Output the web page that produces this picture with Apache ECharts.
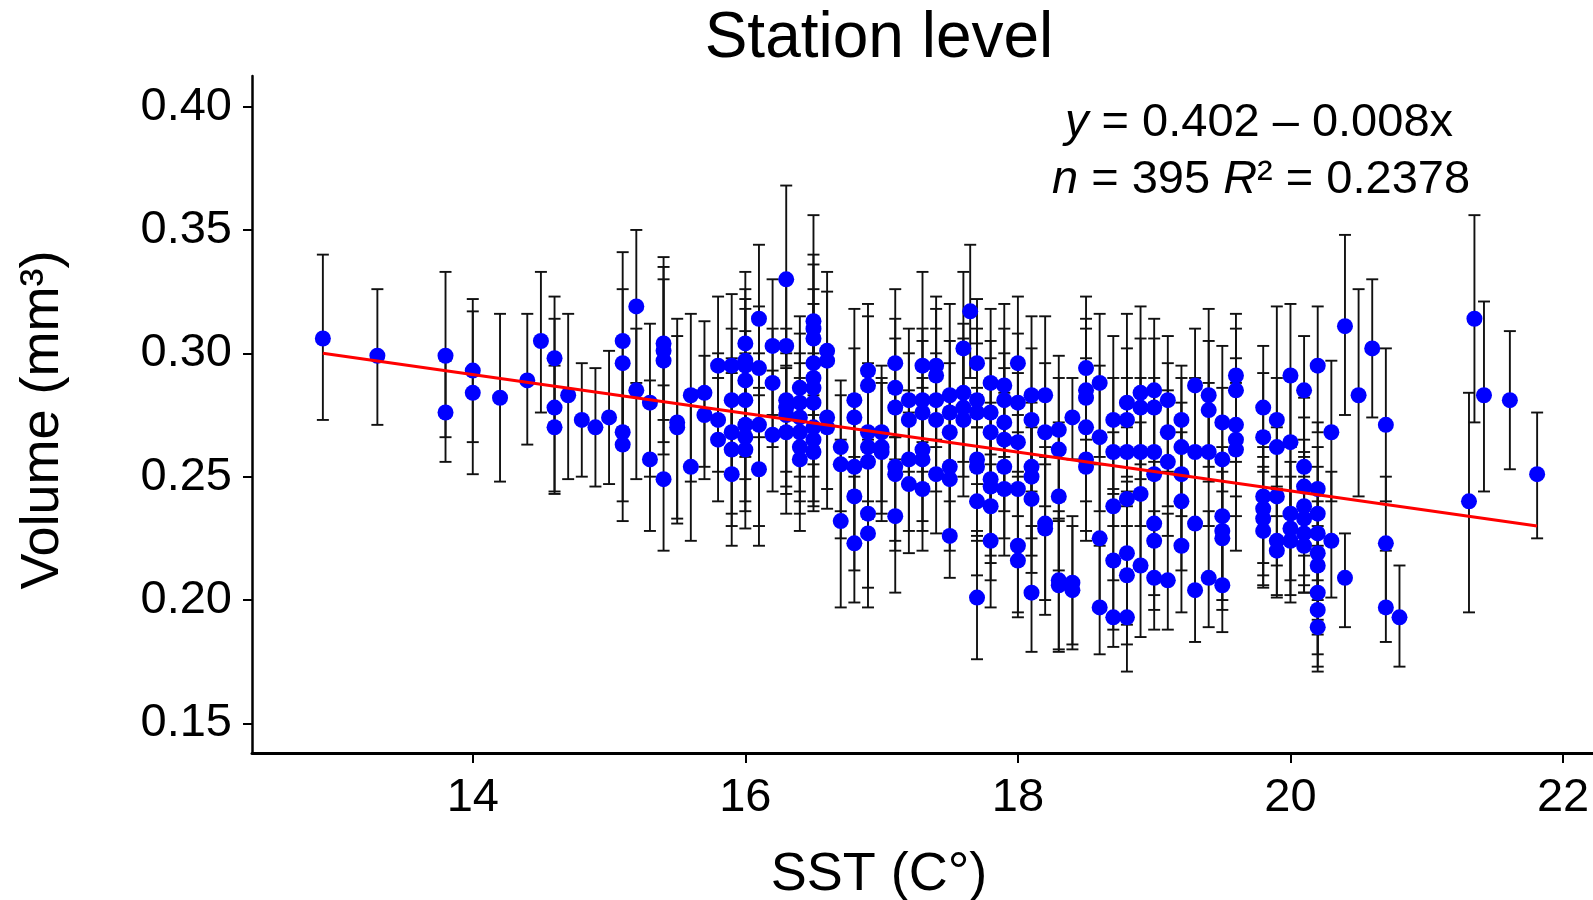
<!DOCTYPE html>
<html lang="en">
<head>
  <meta charset="utf-8"/>
  <title>Station level</title>
  <script src="https://cdn.jsdelivr.net/npm/echarts@6.0.0/dist/echarts.min.js"></script>
  <style>
    html, body { margin: 0; padding: 0; background: #fff; }
    #main { width: 1593px; height: 900px; }
  </style>
</head>
<body>
<div id="main"></div>
<script type="text/javascript">
  // SST (C) of each station, one line per SST column
  var sst = [
    12.9,
    13.3,
    13.8, 13.8,
    14.0, 14.0,
    14.2,
    14.4,
    14.5,
    14.6, 14.6, 14.6,
    14.7,
    14.8,
    14.9,
    15.0,
    15.1, 15.1, 15.1, 15.1,
    15.2, 15.2,
    15.3, 15.3,
    15.4, 15.4, 15.4, 15.4,
    15.5, 15.5,
    15.6, 15.6,
    15.7, 15.7,
    15.8, 15.8, 15.8,
    15.9, 15.9, 15.9, 15.9, 15.9,
    16.0, 16.0, 16.0, 16.0, 16.0, 16.0, 16.0, 16.0,
    16.1, 16.1, 16.1, 16.1,
    16.2, 16.2, 16.2,
    16.3, 16.3, 16.3, 16.3, 16.3, 16.3,
    16.4, 16.4, 16.4, 16.4, 16.4, 16.4,
    16.5, 16.5, 16.5, 16.5, 16.5, 16.5, 16.5, 16.5, 16.5, 16.5,
    16.6, 16.6, 16.6, 16.6,
    16.7, 16.7, 16.7,
    16.8, 16.8, 16.8, 16.8, 16.8,
    16.9, 16.9, 16.9, 16.9, 16.9, 16.9, 16.9,
    17.0, 17.0, 17.0,
    17.1, 17.1, 17.1, 17.1, 17.1, 17.1,
    17.2, 17.2, 17.2, 17.2,
    17.3, 17.3, 17.3, 17.3, 17.3, 17.3,
    17.4, 17.4, 17.4, 17.4, 17.4,
    17.5, 17.5, 17.5, 17.5, 17.5, 17.5,
    17.6, 17.6, 17.6, 17.6,
    17.65,
    17.7, 17.7, 17.7, 17.7, 17.7, 17.7, 17.7,
    17.8, 17.8, 17.8, 17.8, 17.8, 17.8, 17.8,
    17.9, 17.9, 17.9, 17.9, 17.9, 17.9,
    18.0, 18.0, 18.0, 18.0, 18.0, 18.0,
    18.1, 18.1, 18.1, 18.1, 18.1, 18.1,
    18.2, 18.2, 18.2, 18.2,
    18.3, 18.3, 18.3, 18.3, 18.3,
    18.4, 18.4, 18.4,
    18.5, 18.5, 18.5, 18.5, 18.5, 18.5,
    18.6, 18.6, 18.6, 18.6,
    18.7, 18.7, 18.7, 18.7, 18.7,
    18.8, 18.8, 18.8, 18.8, 18.8, 18.8, 18.8,
    18.9, 18.9, 18.9, 18.9, 18.9,
    19.0, 19.0, 19.0, 19.0, 19.0, 19.0, 19.0,
    19.1, 19.1, 19.1, 19.1,
    19.2, 19.2, 19.2, 19.2, 19.2,
    19.3, 19.3, 19.3, 19.3,
    19.4, 19.4, 19.4, 19.4,
    19.5, 19.5, 19.5, 19.5, 19.5, 19.5,
    19.6, 19.6, 19.6, 19.6, 19.6,
    19.8, 19.8, 19.8, 19.8, 19.8, 19.8,
    19.9, 19.9, 19.9, 19.9, 19.9,
    20.0, 20.0, 20.0, 20.0, 20.0,
    20.1, 20.1, 20.1, 20.1, 20.1, 20.1, 20.1,
    20.2, 20.2, 20.2, 20.2, 20.2, 20.2, 20.2, 20.2, 20.2,
    20.3, 20.3,
    20.4, 20.4,
    20.5,
    20.6,
    20.7, 20.7, 20.7,
    20.8,
    21.31, 21.35, 21.42, 21.61, 21.81
  ];

  // mean volume (mm3), same order
  var vol = [
    0.306,
    0.299,
    0.299, 0.276,
    0.293, 0.284,
    0.282,
    0.289,
    0.305,
    0.298, 0.278, 0.270,
    0.283,
    0.273,
    0.270,
    0.274,
    0.305, 0.296, 0.268, 0.263,
    0.319, 0.285,
    0.280, 0.257,
    0.304, 0.301, 0.297, 0.249,
    0.272, 0.270,
    0.283, 0.254,
    0.284, 0.275,
    0.295, 0.273, 0.265,
    0.295, 0.281, 0.268, 0.261, 0.251,
    0.304, 0.297, 0.295, 0.289, 0.281, 0.271, 0.266, 0.261,
    0.314, 0.294, 0.271, 0.253,
    0.303, 0.288, 0.267,
    0.330, 0.303, 0.281, 0.278, 0.275, 0.268,
    0.286, 0.280, 0.274, 0.268, 0.262, 0.257,
    0.313, 0.310, 0.306, 0.296, 0.290, 0.286, 0.280, 0.270, 0.265, 0.260,
    0.301, 0.297, 0.274, 0.270,
    0.262, 0.255, 0.232,
    0.281, 0.274, 0.254, 0.242, 0.223,
    0.293, 0.287, 0.268, 0.262, 0.256, 0.235, 0.227,
    0.268, 0.262, 0.260,
    0.296, 0.286, 0.278, 0.254, 0.251, 0.234,
    0.281, 0.273, 0.257, 0.247,
    0.295, 0.281, 0.276, 0.261, 0.257, 0.245,
    0.295, 0.291, 0.281, 0.273, 0.251,
    0.283, 0.276, 0.268, 0.254, 0.249, 0.226,
    0.302, 0.284, 0.278, 0.273,
    0.317,
    0.296, 0.281, 0.276, 0.257, 0.254, 0.240, 0.201,
    0.288, 0.276, 0.268, 0.249, 0.246, 0.238, 0.224,
    0.287, 0.281, 0.272, 0.265, 0.254, 0.245,
    0.296, 0.280, 0.264, 0.245, 0.222, 0.216,
    0.283, 0.273, 0.254, 0.250, 0.241, 0.203,
    0.283, 0.268, 0.231, 0.229,
    0.269, 0.261, 0.242, 0.208, 0.206,
    0.274, 0.207, 0.204,
    0.294, 0.285, 0.282, 0.270, 0.257, 0.254,
    0.288, 0.266, 0.225, 0.197,
    0.273, 0.260, 0.238, 0.216, 0.193,
    0.280, 0.273, 0.260, 0.241, 0.219, 0.210, 0.193,
    0.284, 0.278, 0.260, 0.243, 0.214,
    0.285, 0.278, 0.260, 0.251, 0.231, 0.224, 0.209,
    0.281, 0.268, 0.256, 0.208,
    0.273, 0.262, 0.251, 0.240, 0.222,
    0.287, 0.260, 0.231, 0.204,
    0.283, 0.277, 0.260, 0.209,
    0.272, 0.257, 0.234, 0.228, 0.225, 0.206,
    0.291, 0.285, 0.271, 0.265, 0.261,
    0.278, 0.266, 0.242, 0.237, 0.233, 0.228,
    0.273, 0.262, 0.242, 0.224, 0.220,
    0.291, 0.264, 0.235, 0.229, 0.224,
    0.285, 0.254, 0.246, 0.238, 0.233, 0.227, 0.222,
    0.295, 0.245, 0.235, 0.227, 0.219, 0.214, 0.203, 0.196, 0.189,
    0.268, 0.224,
    0.311, 0.209,
    0.283,
    0.302,
    0.271, 0.223, 0.197,
    0.193,
    0.240, 0.314, 0.283, 0.281, 0.251
  ];

  // upper end of error bar
  var volHi = [
    0.340,
    0.326,
    0.333, 0.297,
    0.322, 0.317,
    0.316,
    0.316,
    0.333,
    0.323, 0.314, 0.295,
    0.316,
    0.296,
    0.294,
    0.301,
    0.341, 0.326, 0.296, 0.296,
    0.350, 0.310,
    0.312, 0.289,
    0.339, 0.335, 0.330, 0.287,
    0.314, 0.307,
    0.316, 0.285,
    0.313, 0.299,
    0.323, 0.300, 0.290,
    0.324, 0.310, 0.298, 0.292, 0.280,
    0.333, 0.326, 0.322, 0.318, 0.309, 0.300, 0.296, 0.290,
    0.344, 0.319, 0.300, 0.286,
    0.330, 0.310, 0.293,
    0.368, 0.330, 0.310, 0.302, 0.300, 0.294,
    0.315, 0.308, 0.300, 0.296, 0.290, 0.285,
    0.356, 0.340, 0.336, 0.326, 0.320, 0.312, 0.306, 0.300, 0.296, 0.290,
    0.333, 0.325, 0.300, 0.298,
    0.289, 0.283, 0.265,
    0.318, 0.302, 0.283, 0.272, 0.258,
    0.320, 0.315, 0.296, 0.291, 0.285, 0.265, 0.260,
    0.295, 0.290, 0.288,
    0.326, 0.314, 0.306, 0.284, 0.280, 0.266,
    0.310, 0.300, 0.285, 0.276,
    0.333, 0.310, 0.305, 0.290, 0.286, 0.276,
    0.323, 0.318, 0.310, 0.300, 0.280,
    0.320, 0.305, 0.296, 0.283, 0.278, 0.256,
    0.333, 0.312, 0.306, 0.300,
    0.344,
    0.322, 0.310, 0.304, 0.286, 0.283, 0.270, 0.226,
    0.318, 0.305, 0.298, 0.280, 0.276, 0.268, 0.255,
    0.320, 0.310, 0.300, 0.294, 0.284, 0.273,
    0.323, 0.308, 0.292, 0.275, 0.252, 0.245,
    0.315, 0.302, 0.283, 0.280, 0.270, 0.230,
    0.315, 0.296, 0.262, 0.258,
    0.299, 0.290, 0.272, 0.236, 0.233,
    0.290, 0.234, 0.230,
    0.323, 0.314, 0.310, 0.298, 0.286, 0.282,
    0.316, 0.295, 0.255, 0.222,
    0.307, 0.290, 0.268, 0.245, 0.218,
    0.316, 0.302, 0.290, 0.270, 0.248, 0.238, 0.220,
    0.319, 0.306, 0.290, 0.272, 0.242,
    0.314, 0.306, 0.290, 0.280, 0.260, 0.252, 0.236,
    0.307, 0.296, 0.285, 0.235,
    0.295, 0.290, 0.280, 0.268, 0.250,
    0.310, 0.290, 0.260, 0.230,
    0.318, 0.305, 0.288, 0.236,
    0.303, 0.286, 0.262, 0.256, 0.252, 0.233,
    0.316, 0.310, 0.298, 0.292, 0.288,
    0.303, 0.292, 0.268, 0.262, 0.258, 0.254,
    0.319, 0.290, 0.270, 0.250, 0.246,
    0.320, 0.292, 0.262, 0.256, 0.250,
    0.307, 0.282, 0.274, 0.265, 0.260, 0.254, 0.250,
    0.319, 0.272, 0.262, 0.254, 0.246, 0.240, 0.230, 0.222, 0.215,
    0.297, 0.252,
    0.348, 0.227,
    0.326,
    0.330,
    0.302, 0.250, 0.220,
    0.214,
    0.284, 0.356, 0.321, 0.309, 0.276
  ];

  // lower end of error bar
  var volLo = [
    0.273,
    0.271,
    0.266, 0.256,
    0.264, 0.251,
    0.248,
    0.263,
    0.276,
    0.272, 0.244, 0.243,
    0.249,
    0.250,
    0.246,
    0.247,
    0.270, 0.268, 0.240, 0.232,
    0.288, 0.249,
    0.250, 0.228,
    0.273, 0.264, 0.259, 0.220,
    0.233, 0.231,
    0.248, 0.224,
    0.254, 0.249,
    0.265, 0.252, 0.240,
    0.266, 0.250, 0.235, 0.230, 0.222,
    0.273, 0.268, 0.262, 0.258, 0.249, 0.240, 0.236, 0.229,
    0.283, 0.266, 0.230, 0.222,
    0.275, 0.262, 0.244,
    0.295, 0.270, 0.252, 0.246, 0.243, 0.235,
    0.258, 0.250, 0.244, 0.240, 0.235, 0.228,
    0.283, 0.280, 0.275, 0.266, 0.262, 0.255, 0.250, 0.240, 0.238, 0.236,
    0.273, 0.268, 0.245, 0.237,
    0.236, 0.225, 0.197,
    0.250, 0.244, 0.224, 0.212, 0.199,
    0.262, 0.258, 0.240, 0.233, 0.226, 0.205, 0.197,
    0.240, 0.235, 0.232,
    0.266, 0.257, 0.250, 0.224, 0.220, 0.203,
    0.252, 0.246, 0.228, 0.219,
    0.264, 0.252, 0.247, 0.232, 0.228, 0.220,
    0.265, 0.262, 0.252, 0.244, 0.227,
    0.254, 0.248, 0.240, 0.225, 0.220, 0.209,
    0.272, 0.256, 0.250, 0.242,
    0.290,
    0.270, 0.252, 0.247, 0.228, 0.224, 0.210, 0.176,
    0.259, 0.246, 0.238, 0.218, 0.215, 0.208, 0.197,
    0.258, 0.252, 0.243, 0.236, 0.225, 0.218,
    0.268, 0.250, 0.234, 0.215, 0.193, 0.195,
    0.253, 0.244, 0.225, 0.218, 0.211, 0.179,
    0.255, 0.238, 0.200, 0.194,
    0.240, 0.232, 0.212, 0.180, 0.179,
    0.257, 0.182, 0.180,
    0.265, 0.256, 0.253, 0.240, 0.228, 0.224,
    0.258, 0.236, 0.196, 0.178,
    0.243, 0.230, 0.208, 0.188, 0.181,
    0.250, 0.244, 0.230, 0.212, 0.190, 0.182, 0.171,
    0.255, 0.249, 0.230, 0.214, 0.185,
    0.256, 0.249, 0.230, 0.222, 0.202, 0.196, 0.188,
    0.252, 0.238, 0.226, 0.188,
    0.250, 0.234, 0.222, 0.212, 0.195,
    0.260, 0.230, 0.203, 0.183,
    0.254, 0.248, 0.230, 0.189,
    0.244, 0.228, 0.206, 0.200, 0.196, 0.187,
    0.262, 0.256, 0.242, 0.234, 0.220,
    0.252, 0.238, 0.215, 0.210, 0.206, 0.205,
    0.245, 0.234, 0.214, 0.202, 0.201,
    0.262, 0.236, 0.208, 0.202, 0.199,
    0.258, 0.226, 0.218, 0.210, 0.206, 0.203, 0.203,
    0.268, 0.218, 0.208, 0.200, 0.192, 0.186, 0.178, 0.173, 0.171,
    0.240, 0.201,
    0.275, 0.189,
    0.242,
    0.274,
    0.240, 0.195, 0.183,
    0.173,
    0.195, 0.272, 0.244, 0.253, 0.225
  ];

  // fitted line ends
  var fitLine = [[12.9, 0.300], [21.81, 0.230]];

  var xTicks = [14, 16, 18, 20, 22];
  var yTicks = [0.15, 0.20, 0.25, 0.30, 0.35, 0.40];

  if (vol.length !== sst.length || volHi.length !== sst.length || volLo.length !== sst.length) {
    throw new Error('length mismatch ' + sst.length + ' ' + vol.length + ' ' + volHi.length + ' ' + volLo.length);
  }

  var FONT = 'Liberation Sans, Arial, Helvetica, sans-serif';

  var points = sst.map(function (x, i) { return [x, vol[i]]; });
  var bars = sst.map(function (x, i) { return [x, vol[i], volHi[i], volLo[i]]; });

  var myChart = echarts.init(document.getElementById('main'));

  myChart.setOption({
    animation: false,
    backgroundColor: '#fff',
    grid: {
      left: 252,
      right: 0,
      top: 76,
      bottom: 147,
      containLabel: false,
      outerBoundsMode: 'none'
    },
    xAxis: {
      type: 'value',
      min: 12.38,
      max: 22.22,
      splitLine: { show: false },
      axisLine: { onZero: false, lineStyle: { color: '#000', width: 3 } },
      axisTick: { length: 10, customValues: xTicks, lineStyle: { color: '#000', width: 2 } },
      axisLabel: {
        customValues: xTicks,
        margin: 22,
        color: '#000',
        fontSize: 47,
        fontFamily: FONT
      }
    },
    yAxis: {
      type: 'value',
      min: 0.138,
      max: 0.4124,
      splitLine: { show: false },
      axisLine: { show: true, onZero: false, lineStyle: { color: '#000', width: 2.5 } },
      axisTick: { show: true, length: 9, customValues: yTicks, lineStyle: { color: '#000', width: 2 } },
      axisLabel: {
        customValues: yTicks,
        margin: 20,
        color: '#000',
        fontSize: 47,
        fontFamily: FONT,
        formatter: function (v) { return v.toFixed(2); }
      }
    },
    series: [
      {
        // error bars
        type: 'custom',
        z: 2,
        data: bars,
        renderItem: function (params, api) {
          var x = api.value(0);
          var top = api.coord([x, api.value(2)]);
          var bot = api.coord([x, api.value(3)]);
          var w = 6;
          var st = { stroke: '#111', lineWidth: 1.9 };
          return {
            type: 'group',
            children: [
              { type: 'line', shape: { x1: top[0], y1: top[1], x2: bot[0], y2: bot[1] }, style: st },
              { type: 'line', shape: { x1: top[0] - w, y1: top[1], x2: top[0] + w, y2: top[1] }, style: st },
              { type: 'line', shape: { x1: bot[0] - w, y1: bot[1], x2: bot[0] + w, y2: bot[1] }, style: st }
            ]
          };
        }
      },
      {
        type: 'scatter',
        z: 3,
        data: points,
        symbol: 'circle',
        symbolSize: 16,
        itemStyle: { color: '#0000ff', opacity: 1 }
      },
      {
        type: 'line',
        z: 4,
        data: fitLine,
        symbol: 'none',
        lineStyle: { color: '#ff0000', width: 3 }
      }
    ],
    graphic: [
      {
        type: 'text',
        x: 879,
        y: 39,
        style: {
          text: 'Station level',
          fontSize: 64,
          fontFamily: FONT,
          fill: '#000',
          align: 'center',
          verticalAlign: 'middle'
        }
      },
      {
        type: 'text',
        x: 1259,
        y: 123,
        style: {
          text: '{i|y} = 0.402 – 0.008x',
          fontSize: 47,
          fontFamily: FONT,
          fill: '#000',
          align: 'center',
          verticalAlign: 'middle',
          rich: {
            i: { fontSize: 47, fontFamily: FONT, fontStyle: 'italic', fill: '#000' }
          }
        }
      },
      {
        type: 'text',
        x: 1261,
        y: 180,
        style: {
          text: '{i|n} = 395 {i|R}² = 0.2378',
          fontSize: 47,
          fontFamily: FONT,
          fill: '#000',
          align: 'center',
          verticalAlign: 'middle',
          rich: {
            i: { fontSize: 47, fontFamily: FONT, fontStyle: 'italic', fill: '#000' }
          }
        }
      },
      {
        type: 'text',
        x: 879,
        y: 875,
        style: {
          text: 'SST (C°)',
          fontSize: 54,
          fontFamily: FONT,
          fill: '#000',
          align: 'center',
          verticalAlign: 'middle'
        }
      },
      {
        type: 'text',
        x: 43,
        y: 420,
        rotation: Math.PI / 2,
        style: {
          text: 'Volume (mm³)',
          fontSize: 54,
          fontFamily: FONT,
          fill: '#000',
          align: 'center',
          verticalAlign: 'middle'
        }
      }
    ]
  });
</script>
</body>
</html>
